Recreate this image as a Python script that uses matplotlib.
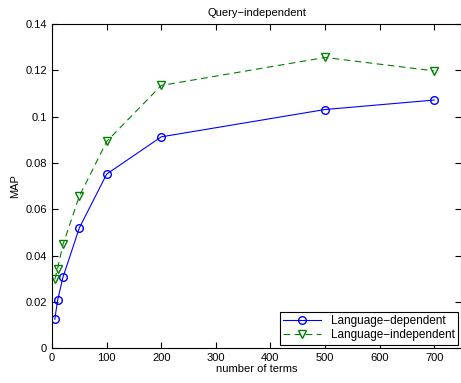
import matplotlib
matplotlib.use("Agg")
import matplotlib.pyplot as plt

plt.rcParams['font.family'] = ['Liberation Sans', 'DejaVu Sans']

terms = [5, 10, 20, 50, 100, 200, 500, 700]
map_dep = [0.0125, 0.0206, 0.0307, 0.0520, 0.0752, 0.0913, 0.1031, 0.1072]
map_indep = [0.0297, 0.0344, 0.0448, 0.0657, 0.0893, 0.1135, 0.1256, 0.1198]

fig = plt.figure(figsize=(4.61, 3.83), dpi=100)
ax = fig.add_axes([0.113, 0.091, 0.888, 0.846])

ax.plot(terms, map_dep, 'b-', marker='o', markersize=5.5, markerfacecolor='none',
        linewidth=0.8, label='Language\u2212dependent')
ax.plot(terms, map_indep, '--', color='green', marker='v', markersize=5.5,
        markerfacecolor='none', linewidth=0.8, dashes=(6, 4),
        label='Language\u2212independent')

ax.set_xlim(0, 750)
ax.set_ylim(0, 0.14)
ax.set_xticks([0, 100, 200, 300, 400, 500, 600, 700])
ax.set_yticks([0, 0.02, 0.04, 0.06, 0.08, 0.1, 0.12, 0.14])
ax.set_yticklabels(['0', '0.02', '0.04', '0.06', '0.08', '0.1', '0.12', '0.14'])
ax.tick_params(direction='in', top=True, right=True, labelsize=8, length=4)
ax.set_xlabel('number of terms', fontsize=8, labelpad=1)
ax.set_ylabel('MAP', fontsize=8)
ax.set_title('Query\u2212independent', fontsize=8)

leg = ax.legend(loc='lower right', fontsize=8.5, fancybox=False, framealpha=1,
                edgecolor='black', borderaxespad=0.3, handlelength=3.2,
                borderpad=0.3, labelspacing=0.15)
leg.get_frame().set_linewidth(0.8)

fig.savefig('out.png', dpi=100)
